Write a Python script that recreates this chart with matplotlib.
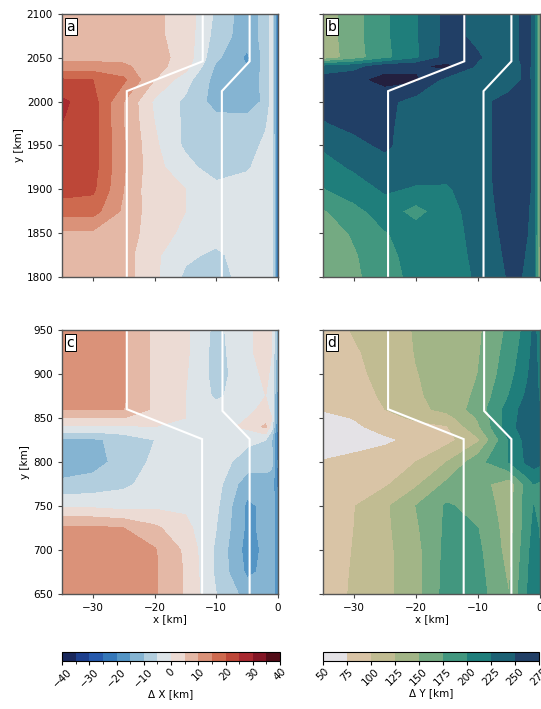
import numpy as np
import matplotlib
matplotlib.use("Agg")  # no display available
import matplotlib.pyplot as plt
from matplotlib.colors import ListedColormap, LinearSegmentedColormap, BoundaryNorm
from matplotlib.cm import ScalarMappable

# grid columns (km from the front) and rows for the two sections
X_KM = [-35, -30, -25, -20, -15, -10, -5, -2, -1, 0]
Y_UPPER = [2100, 2075, 2050, 2040, 2025, 2000, 1975, 1950, 1925, 1900, 1875, 1850, 1825, 1800]
Y_LOWER = [950, 925, 900, 875, 860, 850, 840, 825, 800, 775, 750, 725, 700, 675, 650]

# displacement in x [km], upper section
DX_UPPER = [
    [8, 8, 8, 6, 3, -6, -13, -8, -3, -24],
    [8, 8, 8, 6, 3, -7, -13, -8, -3, -24],
    [8.5, 8.5, 8.5, 7, 3, -9, -16, -8, -3, -24],
    [12, 12, 11, 7, 2, -11, -15, -8, -3, -24],
    [20.5, 20, 16, 5, -3, -12, -14, -8, -3, -24],
    [26, 22, 10, -1, -6, -12, -12.5, -9, -3, -24],
    [25, 22, 10, 0, -6, -8, -8, -5.5, -3, -24],
    [24, 22, 10.5, 1, -6, -8, -7, -4, -2, -24],
    [23, 22, 10.5, 1.5, -3, -8, -5.5, -3, -2, -24],
    [22, 21, 10, 1, 0, -3, -3, -2, -1, -24],
    [17, 17, 9, 2, 0, -2, -2, -1, -1, -24],
    [9, 9, 8, 2, -1, -3, -2, -1, -1, -24],
    [8, 8, 7, 1, -4, -6, -2.5, -1, -1, -24],
    [8, 8, 7, 1, -6, -7, -3, -1, -1, -24],
]

# displacement in y [km], upper section
DY_UPPER = [
    [135, 165, 195, 222, 257, 245, 235, 262, 240, 135],
    [135, 165, 195, 222, 257, 245, 235, 262, 240, 135],
    [133, 163, 193, 220, 260, 252, 235, 262, 240, 135],
    [230, 240, 265, 270, 280, 245, 232, 258, 238, 135],
    [262, 268, 282, 278, 240, 238, 232, 258, 238, 135],
    [258, 262, 258, 238, 236, 240, 262, 260, 240, 135],
    [248, 256, 256, 236, 235, 240, 262, 260, 240, 135],
    [228, 243, 254, 236, 234, 240, 262, 260, 240, 135],
    [215, 228, 240, 236, 234, 240, 262, 258, 240, 135],
    [198, 212, 228, 222, 222, 238, 262, 258, 240, 135],
    [172, 192, 212, 190, 215, 236, 260, 252, 238, 135],
    [160, 178, 198, 212, 215, 232, 258, 250, 238, 135],
    [158, 172, 192, 210, 214, 230, 255, 249, 236, 135],
    [158, 170, 188, 208, 212, 228, 252, 249, 235, 135],
]

# displacement in x [km], lower section
DX_LOWER = [
    [12, 12, 10.5, 4, 1, -6.5, -1, 2, 0, -12],
    [12, 12, 10.5, 4, 1, -7, -1, 2, 0, -14],
    [12, 12, 10.5, 4, 0.5, -7, -2, 1, -1, -16],
    [12, 12, 10.5, 4, 0, -6, -2, 0, -2, -18],
    [10.5, 10.5, 10, 4, 0, -3, -1, 1, -1, -20],
    [5, 5, 5, 3, 0, -2, 0, 3, 0, -20],
    [-1, -1, -1, 0, -1, -2, 1, 6, -3, -22],
    [-11, -11, -8, -5, -3, -2, -4, -5, -10, -24],
    [-13, -12, -8, -4, -2, -3, -7, -8, -9, -22],
    [-9, -8, -6, -3, -2, -3, -13, -12, -12, -22],
    [-1, -1, -2, -1, -1, -4, -16, -14, -11, -20],
    [11, 11, 10, 6, 1.5, -5, -16, -14, -12, -20],
    [13, 13, 12, 10.5, 4, -6, -17, -14, -12, -20],
    [13, 13, 12, 10.5, 4.5, -6, -16, -14, -12, -20],
    [13, 13, 12, 10.5, 4.5, -5, -12, -12, -10, -20],
]

# displacement in y [km], lower section
DY_LOWER = [
    [88, 102, 112, 127, 135, 145, 180, 210, 230, 215],
    [90, 97, 110, 126, 135, 147, 185, 215, 235, 215],
    [92, 96, 105, 124, 134, 150, 190, 222, 238, 215],
    [90, 94, 102, 122, 133, 155, 200, 230, 240, 220],
    [77, 84, 100, 118, 132, 160, 210, 238, 242, 225],
    [68, 76, 92, 104, 115, 152, 212, 240, 244, 228],
    [62, 70, 85, 92, 98, 145, 215, 240, 245, 230],
    [55, 62, 70, 82, 92, 120, 200, 235, 240, 230],
    [77, 84, 90, 100, 125, 165, 200, 230, 235, 230],
    [80, 88, 96, 120, 155, 160, 135, 185, 200, 195],
    [85, 99, 120, 150, 178, 165, 138, 190, 200, 195],
    [86, 100, 119, 146, 180, 175, 138, 190, 205, 198],
    [87, 101, 118, 142, 182, 180, 140, 195, 208, 200],
    [88, 102, 118, 141, 184, 183, 145, 198, 210, 200],
    [88, 103, 118, 141, 185, 185, 150, 200, 210, 200],
]

# glacier outline traces (x, y)
UPPER_LINES = [
    ([-24.5, -24.5, -12.2, -12.2], [1800, 2012, 2046, 2100]),
    ([-9.1, -9.1, -4.6, -4.6], [1800, 2012, 2046, 2100]),
]
LOWER_LINES = [
    ([-24.5, -24.5, -12.3, -12.3], [950, 860, 826, 650]),
    ([-9.0, -9.0, -4.6, -4.6], [950, 858, 826, 650]),
]

DX_LEVELS = np.arange(-40, 41, 5)
DY_LEVELS = np.arange(50, 276, 25)

FS = 7.5


def make_dx_cmap():
    # diverging blue-white-red, sampled at the band centres
    base = LinearSegmentedColormap.from_list("balance_like", [
        (0.0, "#181c43"), (0.125, "#1f4aa5"), (0.25, "#3b85bf"),
        (0.375, "#9cc3d8"), (0.5, "#f1eeed"), (0.625, "#e0a890"),
        (0.75, "#c9583c"), (0.875, "#9e1b2c"), (1.0, "#3c0912")])
    n = len(DX_LEVELS) - 1
    cmap = ListedColormap(base((np.arange(n) + 0.5) / n))
    cmap.set_under("#181c43")
    cmap.set_over("#3c0912")
    return cmap, BoundaryNorm(DX_LEVELS, n)


def make_dy_cmap():
    colors = ["#e4e2e6", "#d9c4a6", "#c1bc92", "#a2b587", "#74aa82",
              "#42977f", "#1f7e7b", "#1c6174", "#213f66"]
    cmap = ListedColormap(colors)
    cmap.set_under("#eeeef0")
    cmap.set_over("#23203f")
    return cmap, BoundaryNorm(DY_LEVELS, len(colors))


def draw_panel(ax, ys, field, levels, cmap, norm, lines, letter):
    X, Y = np.meshgrid(X_KM, ys)
    ax.contourf(X, Y, np.array(field), levels=levels, cmap=cmap, norm=norm,
                extend="both")
    for lx, ly in lines:
        ax.plot(lx, ly, color="white", lw=1.5, solid_joinstyle="miter")
    ax.text(0.02, 0.978, letter, transform=ax.transAxes, ha="left", va="top",
            fontsize=10,
            bbox=dict(facecolor="white", edgecolor="black", lw=0.7, pad=1.2))
    ax.set_xlim(-35, 0)
    ax.set_xticks([-30, -20, -10, 0])
    ax.tick_params(labelsize=FS, length=3, width=0.8, color="#444444")
    for sp in ax.spines.values():
        sp.set_color("#555555")
        sp.set_linewidth(1.0)


fig = plt.figure(figsize=(5.41, 7.09), dpi=100)

ax_a = fig.add_axes([0.1146, 0.6093, 0.3993, 0.3710])
ax_b = fig.add_axes([0.5970, 0.6093, 0.4010, 0.3710])
ax_c = fig.add_axes([0.1146, 0.1622, 0.3993, 0.3724])
ax_d = fig.add_axes([0.5970, 0.1622, 0.4010, 0.3724])

dx_cmap, dx_norm = make_dx_cmap()
dy_cmap, dy_norm = make_dy_cmap()

draw_panel(ax_a, Y_UPPER, DX_UPPER, DX_LEVELS, dx_cmap, dx_norm, UPPER_LINES, "a")
draw_panel(ax_b, Y_UPPER, DY_UPPER, DY_LEVELS, dy_cmap, dy_norm, UPPER_LINES, "b")
draw_panel(ax_c, Y_LOWER, DX_LOWER, DX_LEVELS, dx_cmap, dx_norm, LOWER_LINES, "c")
draw_panel(ax_d, Y_LOWER, DY_LOWER, DY_LEVELS, dy_cmap, dy_norm, LOWER_LINES, "d")

for ax in (ax_a, ax_b):
    ax.set_ylim(1800, 2100)
    ax.set_yticks(np.arange(1800, 2101, 50))
    ax.tick_params(labelbottom=False)
for ax in (ax_c, ax_d):
    ax.set_ylim(650, 950)
    ax.set_yticks(np.arange(650, 951, 50))
    ax.set_xlabel("x [km]", fontsize=FS, labelpad=1)
for ax in (ax_b, ax_d):
    ax.tick_params(labelleft=False)
for ax in (ax_a, ax_c):
    ax.set_ylabel("y [km]", fontsize=FS, labelpad=2)

# colorbars below each column
cax1 = fig.add_axes([0.1146, 0.0677, 0.4030, 0.0127])
cb1 = fig.colorbar(ScalarMappable(norm=dx_norm, cmap=dx_cmap), cax=cax1,
                   orientation="horizontal", ticks=np.arange(-40, 41, 10))
cb1.set_label("Δ X [km]", fontsize=FS, labelpad=0)

cax2 = fig.add_axes([0.5970, 0.0677, 0.3993, 0.0127])
cb2 = fig.colorbar(ScalarMappable(norm=dy_norm, cmap=dy_cmap), cax=cax2,
                   orientation="horizontal", ticks=DY_LEVELS)
cb2.set_label("Δ Y [km]", fontsize=FS, labelpad=0)

for cb in (cb1, cb2):
    cb.ax.tick_params(labelsize=FS, length=3, labelrotation=45, pad=1)
    cb.outline.set_linewidth(0.8)

fig.savefig("out.png", dpi=100)
plt.close(fig)
